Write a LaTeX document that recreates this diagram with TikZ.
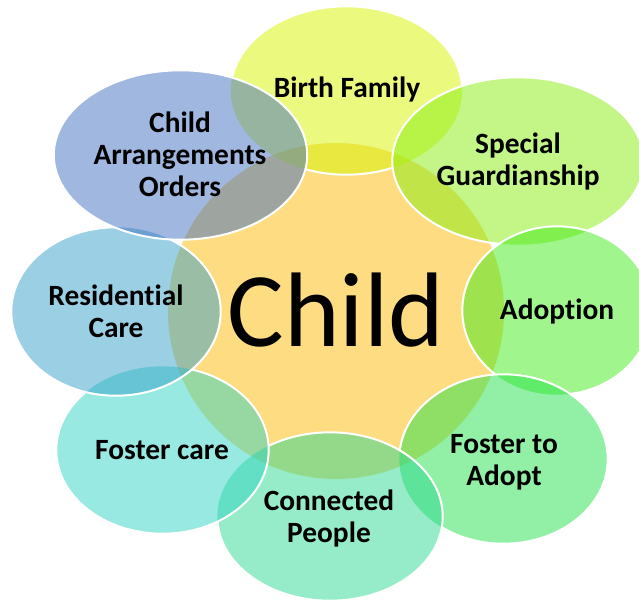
\documentclass[tikz,border=0pt]{standalone}
\usepackage{fontspec}
\setmainfont{Carlito}[Ligatures=CommonOff]
\definecolor{cCentre}{RGB}{253,220,130}
\definecolor{cBirth}{RGB}{215,245,0}
\definecolor{cSpecial}{RGB}{135,237,15}
\definecolor{cAdoption}{RGB}{65,235,25}
\definecolor{cFosterAdopt}{RGB}{35,225,75}
\definecolor{cConnected}{RGB}{45,215,145}
\definecolor{cFoster}{RGB}{50,211,195}
\definecolor{cResidential}{RGB}{55,161,201}
\definecolor{cArrange}{RGB}{65,111,193}
\def\eBirth{(346.5,90.5) ellipse [x radius=115.7,y radius=84.2]}
\def\eSpecial{(518,161) ellipse [x radius=125.7,y radius=83.7]}
\def\eAdoption{(557,310.5) ellipse [x radius=94.7,y radius=84.2]}
\def\eFosterAdopt{(503.5,459) ellipse [x radius=104.2,y radius=84.7]}
\def\eConnected{(330,516.5) ellipse [x radius=112.7,y radius=84.2]}
\def\eFoster{(162.5,450) ellipse [x radius=106.2,y radius=83.7]}
\def\eResidential{(116,311.5) ellipse [x radius=104.7,y radius=84.2]}
\def\eArrange{(180.5,155) ellipse [x radius=126.7,y radius=84.7]}
\def\bigbox{(-20,-20) rectangle (660,620)}
\newcommand{\outside}[1]{\clip \bigbox #1;}
\tikzset{
  petal/.style={fill opacity=.5,draw=none},
  rim/.style={draw=white,line width=2pt},
  lab/.style={font=\fontsize{29.4}{32}\selectfont\bfseries,align=center,text=black,inner sep=0pt},
  hub/.style={font=\fontsize{106}{110}\selectfont,text=black,inner sep=0pt}
}
\begin{document}
\begin{tikzpicture}[x=1pt,y=-1pt]
\useasboundingbox (0,0) rectangle (639,600);
\begin{scope}
\clip (0,0) rectangle (639,600);
\fill[cCentre] (336,311) circle [radius=168];
\fill[cBirth,petal] \eBirth;
\fill[cSpecial,petal] \eSpecial;
\fill[cAdoption,petal] \eAdoption;
\fill[cFosterAdopt,petal] \eFosterAdopt;
\fill[cConnected,petal] \eConnected;
\fill[cFoster,petal] \eFoster;
\fill[cResidential,petal] \eResidential;
\fill[cArrange,petal] \eArrange;
\begin{scope}[even odd rule]\outside{\eSpecial}\outside{\eArrange}\draw[rim] \eBirth;\end{scope}
\begin{scope}[even odd rule]\outside{\eAdoption}\draw[rim] \eSpecial;\end{scope}
\begin{scope}[even odd rule]\outside{\eFosterAdopt}\draw[rim] \eAdoption;\end{scope}
\begin{scope}[even odd rule]\outside{\eConnected}\draw[rim] \eFosterAdopt;\end{scope}
\begin{scope}[even odd rule]\outside{\eFoster}\draw[rim] \eConnected;\end{scope}
\begin{scope}[even odd rule]\outside{\eResidential}\draw[rim] \eFoster;\end{scope}
\begin{scope}[even odd rule]\outside{\eArrange}\draw[rim] \eResidential;\end{scope}
\draw[rim] \eArrange;
\end{scope}
\node[hub] (child) at (336,310) {Child};
\node[lab] (birth) at (347,89) {Birth Family};
\node[lab] (special) at (518,161.5) {Special\\Guardianship};
\node[lab] (adoption) at (557,311) {Adoption};
\node[lab] (fosteradopt) at (504,462) {Foster to\\Adopt};
\node[lab] (connected) at (329,518) {Connected\\People};
\node[lab] (foster) at (162,450) {Foster care};
\node[lab] (residential) at (116,311) {Residential\\Care};
\node[lab] (arrange) at (180,154) {Child\\Arrangements\\Orders};
\end{tikzpicture}
\end{document}
